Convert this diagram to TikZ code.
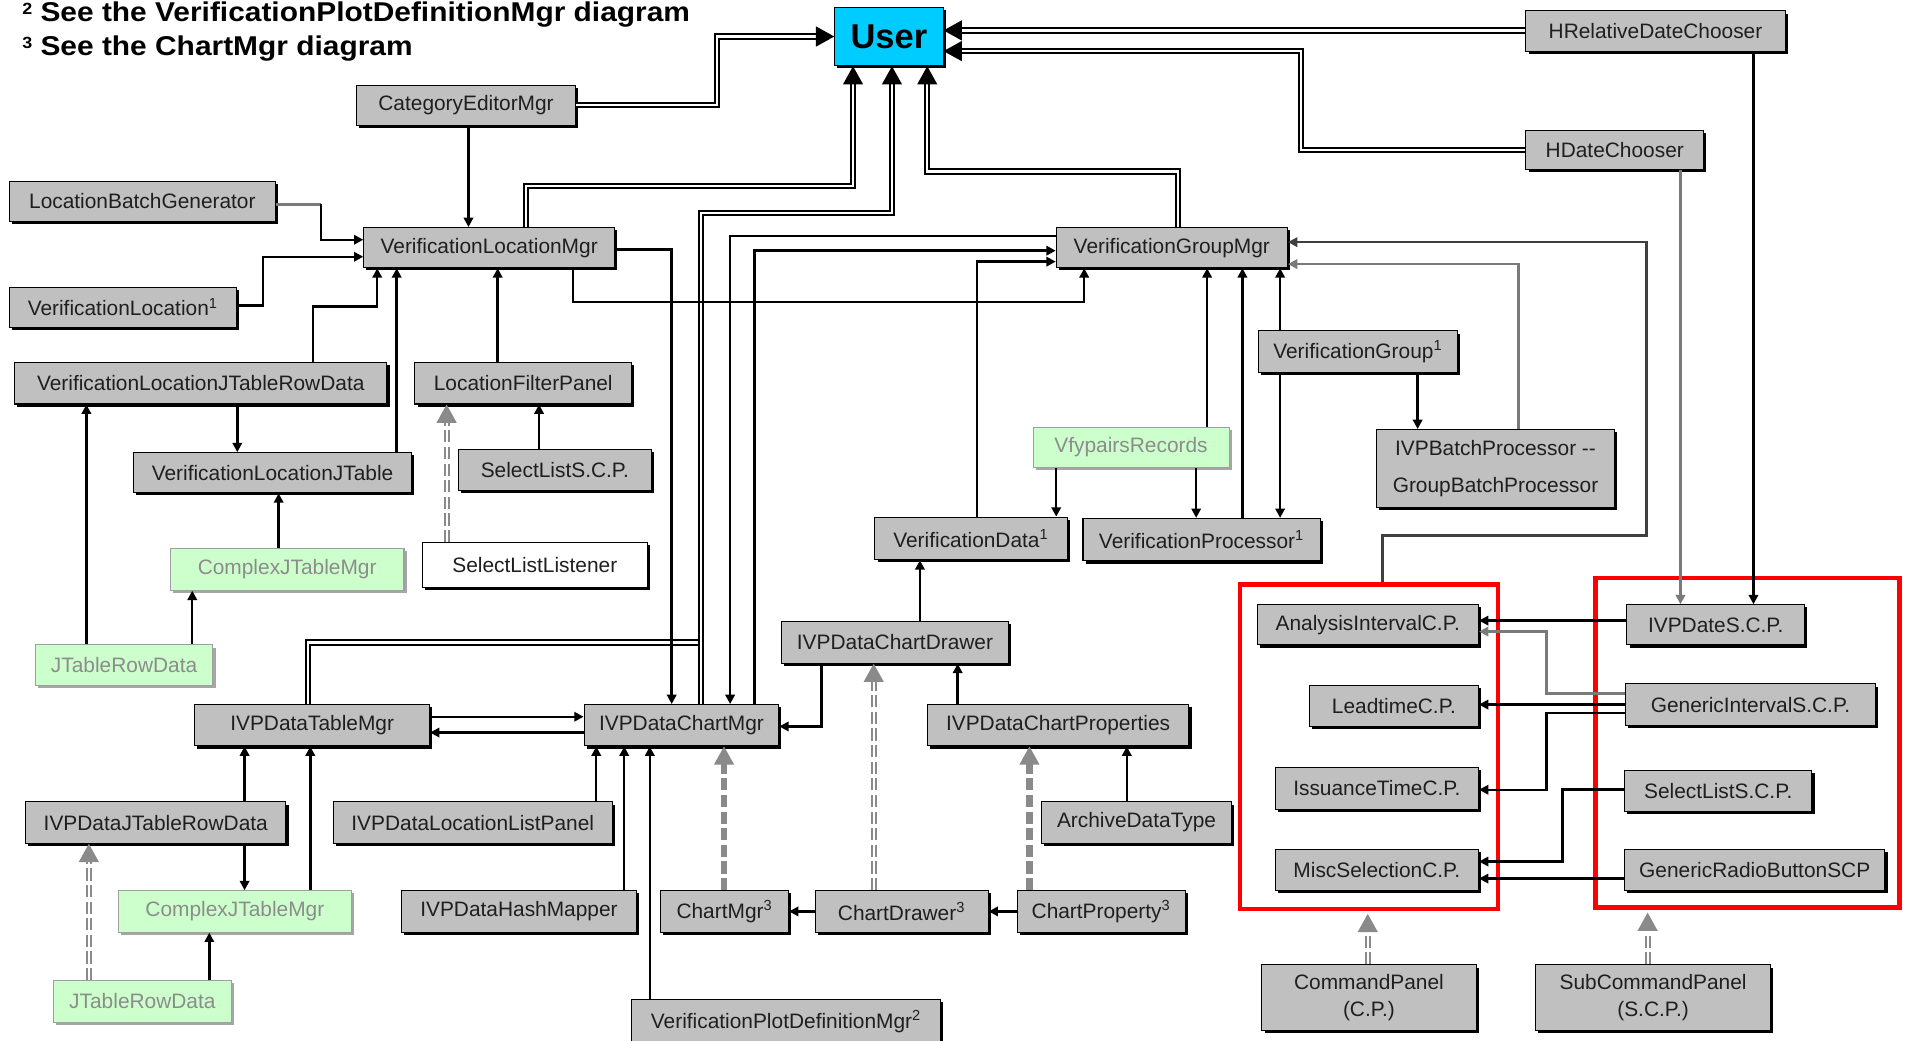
\documentclass[tikz,border=0pt]{standalone}
\usepackage{fontspec}
\setmainfont{Liberation Sans}
\newfontfamily\titlefont{Liberation Sans}[FakeStretch=1.1]
\usetikzlibrary{arrows.meta,shadows}

\definecolor{boxgray}{HTML}{C0C0C0}
\definecolor{usercyan}{HTML}{00CCFF}
\definecolor{libgreen}{HTML}{CCFFCC}
\definecolor{libtext}{HTML}{8C8C8C}
\definecolor{midgray}{HTML}{8A8A8A}
\definecolor{linegray}{HTML}{7A7A7A}
\definecolor{darkline}{HTML}{404040}

% class box from its corners: name, x1, y1, x2, y2, style, text
\newcommand\bx[7]{\node[#6, minimum width={(#4-#2)*0.6pt}, minimum height={(#5-#3)*0.6pt}] (#1) at ({(#2+#4)/2},{(#3+#5)/2}) {#7};}
% filled triangular head: apex, direction (degrees), colour
\newcommand\headat[3]{\fill[#3] #1 -- ++({#2+151}:10.3pt) -- ++({#2-90}:10pt) -- cycle;}
% footnote mark
\newcommand\fnmark[1]{{\fontsize{8}{8}\selectfont\raisebox{3.6pt}{#1}}}

\tikzset{
  boxbase/.style={draw=black, line width=0.5pt, inner sep=0pt, text=black!88,
    font=\fontsize{10.3}{12}\selectfont},
  classbox/.style={boxbase, fill=boxgray,
    general shadow={fill=black, shadow xshift=1.3pt, shadow yshift=-1.3pt}},
  libbox/.style={boxbase, draw=gray!75, fill=libgreen, text=libtext,
    general shadow={fill=gray!70, shadow xshift=1.3pt, shadow yshift=-1.3pt}},
  plainbox/.style={boxbase, fill=white,
    general shadow={fill=black, shadow xshift=1.3pt, shadow yshift=-1.3pt}},
  userbox/.style={boxbase, fill=usercyan, text=black,
    font=\bfseries\fontsize{17}{20}\selectfont,
    general shadow={fill=black, shadow xshift=1.3pt, shadow yshift=-1.3pt}},
  twoline/.style={align=center, font=\fontsize{10.3}{13.2}\selectfont},
  panelgroup/.style={draw=red, line width=2.4pt, inner sep=0pt},
  wire/.style={draw=black, line width=1.2pt},
  conn/.style={wire, -{Triangle[length=4.6pt,width=4.6pt]}},
  feedline/.style={draw=black, line width=1pt, double=white, double distance=1.1pt},
  feed/.style={feedline, shorten >=8pt},
  realize/.style={draw=midgray, line width=3pt, dash pattern=on 6pt off 2.2pt, shorten >=8pt},
  realizetwin/.style={draw=midgray, line width=1pt, double=white, double distance=1pt,
    dash pattern=on 6pt off 2.2pt, shorten >=8pt},
  heading/.style={anchor=base west, inner sep=0pt,
    font=\titlefont\bfseries\fontsize{13.4}{16}\selectfont},
}

\begin{document}
\begin{tikzpicture}[x=0.6pt,y=-0.6pt]
\useasboundingbox (0,0) rectangle (1568,855);
\clip (0,0) rectangle (1568,855);

% footnotes
\node[heading] (note2) at (18,18) {\fnmark{2} See the VerificationPlotDefinitionMgr diagram};
\node[heading] (note3) at (18,46) {\fnmark{3} See the ChartMgr diagram};

% panel groups
\bx{cpgroup}{1019}{480}{1231}{747}{panelgroup}{}
\bx{scpgroup}{1311}{475}{1561}{746}{panelgroup}{}

% classes
\bx{user}{686}{6}{775}{54}{userbox}{User}
\bx{hrdc}{1254}{9}{1467}{42}{classbox}{HRelativeDateChooser}
\bx{hdc}{1254}{107}{1400}{139}{classbox}{HDateChooser}
\bx{cem}{293}{70}{473}{103}{classbox}{CategoryEditorMgr}
\bx{lbg}{8}{149}{226}{182}{classbox}{LocationBatchGenerator}
\bx{vlm}{299}{187}{505}{220}{classbox}{VerificationLocationMgr}
\bx{vgm}{868}{187}{1058}{220}{classbox}{VerificationGroupMgr}
\bx{vl}{8}{236}{194}{269}{classbox}{VerificationLocation\textsuperscript{1}}
\bx{vljtrd}{12}{298}{318}{332}{classbox}{VerificationLocationJTableRowData}
\bx{lfp}{341}{298}{519}{332}{classbox}{LocationFilterPanel}
\bx{vljt}{110}{372}{338}{405}{classbox}{VerificationLocationJTable}
\bx{slscpa}{377}{369}{535}{403}{classbox}{SelectListS.C.P.}
\bx{cjtma}{140}{451}{332}{485}{libbox}{ComplexJTableMgr}
\bx{sll}{347}{446}{532}{483}{plainbox}{SelectListListener}
\bx{jtrda}{29}{530}{175}{563}{libbox}{JTableRowData}
\bx{vg}{1034}{272}{1198}{306}{classbox}{VerificationGroup\textsuperscript{1}}
\bx{vr}{849}{351}{1010}{384}{libbox}{VfypairsRecords}
\bx{ivpbp}{1131}{353}{1327}{417}{classbox, align=center, font=\fontsize{10.3}{18}\selectfont}{IVPBatchProcessor {-}{-}\\GroupBatchProcessor}
\bx{vd}{719}{425}{877}{460}{classbox}{VerificationData\textsuperscript{1}}
\bx{vp}{890}{426}{1085}{461}{classbox}{VerificationProcessor\textsuperscript{1}}
\bx{cdraw}{642}{511}{829}{545}{classbox}{IVPDataChartDrawer}
\bx{tmgr}{160}{579}{353}{613}{classbox}{IVPDataTableMgr}
\bx{cmgr}{480}{579}{640}{613}{classbox}{IVPDataChartMgr}
\bx{cprops}{762}{579}{977}{613}{classbox}{IVPDataChartProperties}
\bx{ivpjtrd}{21}{659}{235}{693}{classbox}{IVPDataJTableRowData}
\bx{llp}{274}{659}{503}{693}{classbox}{IVPDataLocationListPanel}
\bx{adt}{856}{659}{1012}{693}{classbox}{ArchiveDataType}
\bx{cjtmb}{97}{732}{289}{766}{libbox}{ComplexJTableMgr}
\bx{hash}{330}{732}{523}{766}{classbox}{IVPDataHashMapper}
\bx{chartmgr}{543}{732}{648}{766}{classbox}{ChartMgr\textsuperscript{3}}
\bx{chartdraw}{670}{732}{812}{766}{classbox}{ChartDrawer\textsuperscript{3}}
\bx{chartprop}{836}{732}{974}{766}{classbox}{ChartProperty\textsuperscript{3}}
\bx{jtrdb}{44}{806}{190}{840}{libbox}{JTableRowData}
\bx{vpdm}{519}{821}{773}{858}{classbox}{VerificationPlotDefinitionMgr\textsuperscript{2}}

% command panels and sub command panels
\bx{aicp}{1033}{497}{1215}{530}{classbox}{AnalysisIntervalC.P.}
\bx{ltcp}{1076}{563}{1215}{597}{classbox}{LeadtimeC.P.}
\bx{itcp}{1048}{631}{1215}{665}{classbox}{IssuanceTimeC.P.}
\bx{mscp}{1048}{698}{1215}{732}{classbox}{MiscSelectionC.P.}
\bx{dscp}{1337}{497}{1483}{530}{classbox}{IVPDateS.C.P.}
\bx{giscp}{1336}{562}{1541}{596}{classbox}{GenericIntervalS.C.P.}
\bx{slscpb}{1335}{633}{1489}{667}{classbox}{SelectListS.C.P.}
\bx{grbscp}{1335}{698}{1549}{732}{classbox}{GenericRadioButtonSCP}
\bx{cp}{1037}{793}{1213}{847}{classbox, twoline}{CommandPanel\\(C.P.)}
\bx{scp}{1262}{793}{1455}{847}{classbox, twoline}{SubCommandPanel\\(S.C.P.)}

% links to User
\draw[feed] (cem.east |- 0,86) -- (589,86) -- (589,30) -- (user.west |- 0,30);
\headat{(user.west |- 0,30)}{0}{black}
\draw[feed] (vlm.north -| 432,0) -- (432,153) -- (701,153) -- (user.south -| 701,0);
\headat{(user.south -| 701,0)}{90}{black}
\draw[feedline] (tmgr.north -| 253,0) -- (253,528) -- (576,528);
\draw[feed] (cmgr.north -| 576,0) -- (576,175) -- (733,175) -- (user.south -| 733,0);
\headat{(user.south -| 733,0)}{90}{black}
\draw[feed] (vgm.north -| 968,0) -- (968,141) -- (762,141) -- (user.south -| 762,0);
\headat{(user.south -| 762,0)}{90}{black}
\draw[feed] (hrdc.west |- 0,25) -- (user.east |- 0,25);
\headat{(user.east |- 0,25)}{180}{black}
\draw[feed] (hdc.west |- 0,123) -- (1069,123) -- (1069,42) -- (user.east |- 0,42);
\headat{(user.east |- 0,42)}{180}{black}

% date choosers
\draw[conn] (hrdc.south -| 1441,0) -- (dscp.north -| 1441,0);
\draw[conn, draw=linegray] (hdc.south -| 1381,0) -- (dscp.north -| 1381,0);

% location side
\draw[conn] (cem.south -| 385,0) -- (vlm.north -| 385,0);
\draw[wire, draw=linegray] (lbg.east |- 0,168) -- (264,168);
\draw[conn] (264,168) -- (264,197) -- (vlm.west |- 0,197);
\draw[conn] (vl.east |- 0,251) -- (216,251) -- (216,211) -- (vlm.west |- 0,211);
\draw[conn] (vljtrd.north -| 257,0) -- (257,252) -- (310,252) -- (vlm.south -| 310,0);
\draw[conn] (vljt.north -| 326,0) -- (vlm.south -| 326,0);
\draw[conn] (lfp.north -| 409,0) -- (vlm.south -| 409,0);
\draw[conn] (vljtrd.south -| 195,0) -- (vljt.north -| 195,0);
\draw[conn] (jtrda.north -| 71,0) -- (vljtrd.south -| 71,0);
\draw[conn] (cjtma.north -| 229,0) -- (vljt.south -| 229,0);
\draw[conn] (jtrda.north -| 158,0) -- (cjtma.south -| 158,0);
\draw[conn] (slscpa.north -| 443,0) -- (lfp.south -| 443,0);
\draw[realizetwin] (sll.north -| 367,0) -- (lfp.south -| 367,0);
\headat{(lfp.south -| 367,0)}{90}{midgray}

% managers
\draw[conn] (vlm.east |- 0,205) -- (552,205) -- (cmgr.north -| 552,0);
\draw[conn] (vlm.south -| 471,0) -- (471,248) -- (891,248) -- (vgm.south -| 891,0);
\draw[conn] (vgm.west |- 0,194) -- (600,194) -- (cmgr.north -| 600,0);
\draw[conn] (cmgr.north -| 620,0) -- (620,206) -- (vgm.west |- 0,206);
\draw[conn] (vd.north -| 803,0) -- (803,215) -- (vgm.west |- 0,215);
\draw[conn] (vr.north -| 992,0) -- (vgm.south -| 992,0);
\draw[conn] (vp.north -| 1021,0) -- (vgm.south -| 1021,0);
\draw[conn] (vg.north -| 1052,0) -- (vgm.south -| 1052,0);
\draw[conn] (vg.south -| 1052,0) -- (vp.north -| 1052,0);
\draw[conn] (vg.south -| 1165,0) -- (ivpbp.north -| 1165,0);
\draw[conn, draw=linegray] (ivpbp.north -| 1248,0) -- (1248,217) -- (vgm.east |- 0,217);
\draw[conn, draw=darkline] (cpgroup.north -| 1136,0) -- (1136,440) -- (1353,440) -- (1353,199) -- (vgm.east |- 0,199);
\draw[conn] (vr.south -| 868,0) -- (vd.north -| 868,0);
\draw[conn] (vr.south -| 983,0) -- (vp.north -| 983,0);

% chart side
\draw[conn] (cdraw.north -| 756,0) -- (vd.south -| 756,0);
\draw[conn] (cdraw.south -| 675,0) -- (675,597) -- (cmgr.east |- 0,597);
\draw[conn] (cprops.north -| 787,0) -- (cdraw.south -| 787,0);
\draw[realizetwin] (chartdraw.north -| 718,0) -- (cdraw.south -| 718,0);
\headat{(cdraw.south -| 718,0)}{90}{midgray}
\draw[realize] (chartmgr.north -| 595,0) -- (cmgr.south -| 595,0);
\headat{(cmgr.south -| 595,0)}{90}{midgray}
\draw[realize] (chartprop.north -| 846,0) -- (cprops.south -| 846,0);
\headat{(cprops.south -| 846,0)}{90}{midgray}
\draw[conn] (adt.north -| 926,0) -- (cprops.south -| 926,0);
\draw[conn] (chartdraw.west) -- (chartmgr.east);
\draw[conn] (chartprop.west) -- (chartdraw.east);

% table side
\draw[conn] (tmgr.east |- 0,589) -- (cmgr.west |- 0,589);
\draw[conn] (cmgr.west |- 0,602) -- (tmgr.east |- 0,602);
\draw[conn] (llp.north -| 490,0) -- (cmgr.south -| 490,0);
\draw[conn] (hash.north -| 513,0) -- (cmgr.south -| 513,0);
\draw[conn] (vpdm.north -| 534,0) -- (cmgr.south -| 534,0);
\draw[conn] (ivpjtrd.north -| 201,0) -- (tmgr.south -| 201,0);
\draw[conn] (cjtmb.north -| 255,0) -- (tmgr.south -| 255,0);
\draw[conn] (ivpjtrd.south -| 201,0) -- (cjtmb.north -| 201,0);
\draw[realizetwin] (jtrdb.north -| 73,0) -- (ivpjtrd.south -| 73,0);
\headat{(ivpjtrd.south -| 73,0)}{90}{midgray}
\draw[conn] (jtrdb.north -| 172,0) -- (cjtmb.south -| 172,0);

% sub command panels feeding command panels
\draw[conn] (dscp.west |- 0,510) -- (aicp.east |- 0,510);
\draw[conn, draw=linegray] (giscp.west |- 0,570) -- (1271,570) -- (1271,519) -- (aicp.east |- 0,519);
\draw[conn] (giscp.west |- 0,579) -- (ltcp.east |- 0,579);
\draw[conn] (giscp.west |- 0,586) -- (1271,586) -- (1271,649) -- (itcp.east |- 0,649);
\draw[conn, line width=1.6pt] (slscpb.west |- 0,649) -- (1284,649) -- (1284,708) -- (mscp.east |- 0,708);
\draw[conn] (grbscp.west |- 0,722) -- (mscp.east |- 0,722);
\draw[realizetwin] (cp.north -| 1124,0) -- (cpgroup.south -| 1124,0);
\headat{([yshift=-1.2pt]cpgroup.south -| 1124,0)}{90}{midgray}
\draw[realizetwin] (scp.north -| 1354,0) -- (scpgroup.south -| 1354,0);
\headat{([yshift=-1.2pt]scpgroup.south -| 1354,0)}{90}{midgray}
\end{tikzpicture}
\end{document}
